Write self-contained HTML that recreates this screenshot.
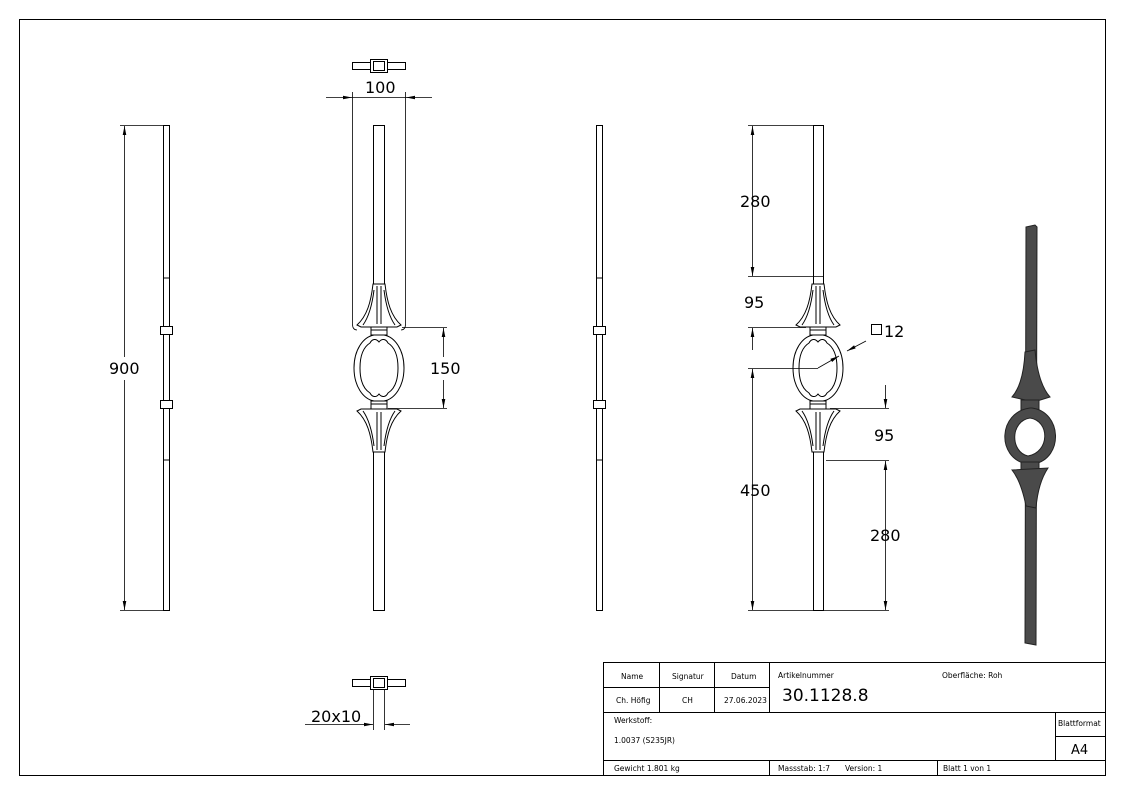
<!DOCTYPE html>
<html><head><meta charset="utf-8"><style>
html,body{margin:0;padding:0;background:#fff}
svg{display:block}
text{font-family:"DejaVu Sans","Liberation Sans",sans-serif;fill:#000}
</style></head><body>
<svg width="1123" height="794" viewBox="0 0 1123 794" xmlns="http://www.w3.org/2000/svg">
<defs>
<marker id="a" viewBox="0 0 10 10" refX="10" refY="5" markerWidth="9" markerHeight="9" orient="auto-start-reverse" markerUnits="userSpaceOnUse"><path d="M0,3 L10,5 L0,7z" fill="#000"/></marker>
<g id="orn" fill="#fff" stroke="#000" stroke-width="1">
  <path d="M-6,-84 L6,-84 C8,-66 12,-52 22,-43 L18,-41 L-18,-41 L-22,-43 C-12,-52 -8,-66 -6,-84Z"/>
  <path d="M-2,-82 L-2,-44 M2,-82 L2,-44 M-5,-78 C-7,-62 -11,-50 -16,-43 M5,-78 C7,-62 11,-50 16,-43" fill="none"/>
  <rect x="-8" y="-41" width="16" height="8"/>
  <line x1="-8" y1="-38" x2="8" y2="-38"/>
  <path d="M-5,-33 C-16,-31 -25,-18 -25,0 C-25,18 -16,31 -5,33 L5,33 C16,31 25,18 25,0 C25,-18 16,-31 5,-33Z"/>
  <path d="M0,-26 C-3,-30 -7,-29 -9,-25 C-17,-20 -19,-10 -19,0 C-19,10 -17,20 -9,25 C-7,29 -3,30 0,26 C3,30 7,29 9,25 C17,20 19,10 19,0 C19,-10 17,-20 9,-25 C7,-29 3,-30 0,-26Z"/>
  <rect x="-8" y="33" width="16" height="8"/>
  <line x1="-8" y1="36" x2="8" y2="36"/>
  <path d="M-6,84 L6,84 C8,66 12,52 22,43 L18,41 L-18,41 L-22,43 C-12,52 -8,66 -6,84Z"/>
  <path d="M-2,82 L-2,44 M2,82 L2,44 M-5,78 C-7,62 -11,50 -16,43 M5,78 C7,62 11,50 16,43" fill="none"/>
</g>
</defs>
<rect x="19.5" y="19.5" width="1086" height="756" fill="none" stroke="#000" stroke-width="1"/>

<g stroke="#000" stroke-width="1" fill="none">
<rect x="163.5" y="125.5" width="6" height="485"/>
<line x1="163" y1="278" x2="169" y2="278"/><line x1="163" y1="460" x2="169" y2="460"/>
<rect x="160.5" y="326.5" width="12" height="8" fill="#fff"/><rect x="160.5" y="400.5" width="12" height="8" fill="#fff"/>
<line x1="120" y1="125.5" x2="163" y2="125.5" stroke-width=".7"/>
<line x1="120" y1="610.5" x2="163" y2="610.5" stroke-width=".7"/>
<line x1="124.5" y1="126" x2="124.5" y2="357" marker-start="url(#a)" stroke-width=".8"/>
<line x1="124.5" y1="380" x2="124.5" y2="610" marker-end="url(#a)" stroke-width=".8"/>

<rect x="373.5" y="125.5" width="11" height="485"/>
<use href="#orn" x="379" y="368"/>
<line x1="352.5" y1="92" x2="352.5" y2="324" stroke-width=".8"/>
<line x1="405.5" y1="92" x2="405.5" y2="324" stroke-width=".8"/>
<path d="M352.5,324 Q352.5,330 357,330 M405.5,324 Q405.5,330 401,330" stroke-width=".8"/>
<line x1="326" y1="97.5" x2="352" y2="97.5" marker-end="url(#a)" stroke-width=".8"/>
<line x1="432" y1="97.5" x2="406" y2="97.5" marker-end="url(#a)" stroke-width=".8"/>
<line x1="352" y1="97.5" x2="406" y2="97.5" stroke-width=".8"/>
<line x1="402" y1="327.5" x2="447" y2="327.5" stroke-width=".7"/>
<line x1="388" y1="408.5" x2="447" y2="408.5" stroke-width=".7"/>
<line x1="443.5" y1="328" x2="443.5" y2="357" marker-start="url(#a)" stroke-width=".8"/>
<line x1="443.5" y1="380" x2="443.5" y2="408" marker-end="url(#a)" stroke-width=".8"/>
<rect x="352.5" y="62.5" width="53" height="7"/>
<rect x="370.5" y="59.5" width="17" height="13" fill="#fff"/>
<rect x="373.5" y="61.5" width="11" height="9"/>
<rect x="352.5" y="679.5" width="53" height="7"/>
<rect x="370.5" y="676.5" width="17" height="13" fill="#fff"/>
<rect x="373.5" y="678.5" width="11" height="9"/>
<line x1="373.5" y1="690" x2="373.5" y2="730" stroke-width=".8"/>
<line x1="384.5" y1="690" x2="384.5" y2="730" stroke-width=".8"/>
<line x1="305" y1="724.5" x2="373" y2="724.5" marker-end="url(#a)" stroke-width=".8"/>
<line x1="410" y1="724.5" x2="385" y2="724.5" marker-end="url(#a)" stroke-width=".8"/>

<rect x="596.5" y="125.5" width="6" height="485"/>
<line x1="596" y1="278" x2="602" y2="278"/><line x1="596" y1="460" x2="602" y2="460"/>
<rect x="593.5" y="326.5" width="12" height="8" fill="#fff"/><rect x="593.5" y="400.5" width="12" height="8" fill="#fff"/>

<rect x="813.5" y="125.5" width="10" height="485"/>
<use href="#orn" x="818" y="368"/>
<g stroke-width=".7">
<line x1="748" y1="125.5" x2="813" y2="125.5"/>
<line x1="748" y1="276.5" x2="823" y2="276.5"/>
<line x1="748" y1="327.5" x2="806" y2="327.5"/>
<line x1="748" y1="368.5" x2="818" y2="368.5"/>
<line x1="748" y1="610.5" x2="889" y2="610.5"/>
<line x1="830" y1="408.5" x2="889" y2="408.5"/>
<line x1="826" y1="460.5" x2="889" y2="460.5"/>
</g>
<line x1="752.5" y1="126" x2="752.5" y2="276" marker-start="url(#a)" marker-end="url(#a)" stroke-width=".8"/>
<line x1="752.5" y1="350" x2="752.5" y2="328" marker-end="url(#a)" stroke-width=".8"/>
<line x1="752.5" y1="369" x2="752.5" y2="610" marker-start="url(#a)" marker-end="url(#a)" stroke-width=".8"/>
<line x1="885.5" y1="385" x2="885.5" y2="408" marker-end="url(#a)" stroke-width=".8"/>
<line x1="885.5" y1="461" x2="885.5" y2="610" marker-start="url(#a)" marker-end="url(#a)" stroke-width=".8"/>
<line x1="818" y1="368" x2="839" y2="356" marker-end="url(#a)" stroke-width=".8"/>
<line x1="866" y1="341" x2="847" y2="351" marker-end="url(#a)" stroke-width=".8"/>
</g>

<g fill="#4a4a4a" stroke="#222" stroke-width="1">
<path d="M1026,227 L1035,225 L1037,227 L1036,645 L1025,643Z"/>
<path d="M1025,352 L1035,350 C1037,372 1042,388 1050,397 L1034,402 L1012,397 C1020,388 1024,372 1025,352Z"/>
<rect x="1021" y="400" width="18" height="10"/>
<path d="M1030,408 C998,412 996,458 1027,464 L1034,464 C1064,458 1062,412 1032,408Z"/>
<path d="M1030,418 C1010,421 1010,452 1028,456 C1050,452 1050,421 1030,418Z" fill="#fff"/>
<rect x="1021" y="462" width="18" height="10"/>
<path d="M1012,470 L1048,468 C1040,480 1037,496 1036,508 L1026,506 C1024,496 1020,480 1012,470Z"/>
</g>

<g font-size="16">
<text x="109" y="374">900</text>
<text x="365" y="93">100</text>
<text x="430" y="374">150</text>
<text x="311" y="722">20x10</text>
<text x="740" y="207">280</text>
<text x="744" y="308">95</text>
<text x="740" y="496">450</text>
<text x="874" y="441">95</text>
<text x="870" y="541">280</text>
<text x="884" y="337">12</text>
</g>
<rect x="871.5" y="324.5" width="10" height="10" fill="none" stroke="#000"/>

<g stroke="#000" stroke-width="1" fill="none">
<rect x="603.5" y="662.5" width="502" height="113"/>
<line x1="603" y1="687.5" x2="769" y2="687.5"/>
<line x1="603" y1="712.5" x2="1105" y2="712.5"/>
<line x1="603" y1="760.5" x2="1105" y2="760.5"/>
<line x1="659.5" y1="662" x2="659.5" y2="712"/>
<line x1="714.5" y1="662" x2="714.5" y2="712"/>
<line x1="769.5" y1="662" x2="769.5" y2="712"/>
<line x1="1055.5" y1="712" x2="1055.5" y2="760"/>
<line x1="1055" y1="736.5" x2="1105" y2="736.5"/>
<line x1="769.5" y1="760" x2="769.5" y2="775"/>
<line x1="937.5" y1="760" x2="937.5" y2="775"/>
</g>
<g font-size="7.5">
<text x="621" y="679">Name</text>
<text x="672" y="679">Signatur</text>
<text x="731" y="679">Datum</text>
<text x="778" y="678">Artikelnummer</text>
<text x="942" y="678">Oberfläche:  Roh</text>
<text x="616" y="703">Ch. Höfig</text>
<text x="682" y="703">CH</text>
<text x="724" y="703">27.06.2023</text>
<text x="614" y="723">Werkstoff:</text>
<text x="614" y="743">1.0037 (S235JR)</text>
<text x="1058" y="726">Blattformat</text>
<text x="614" y="771">Gewicht 1.801 kg</text>
<text x="778" y="771">Massstab: 1:7</text>
<text x="845" y="771">Version: 1</text>
<text x="943" y="771">Blatt 1 von 1</text>
</g>
<text x="782" y="701" font-size="17" font-family="Liberation Sans, sans-serif">30.1128.8</text>
<text x="1071" y="754" font-size="13">A4</text>
</svg>
</body></html>
